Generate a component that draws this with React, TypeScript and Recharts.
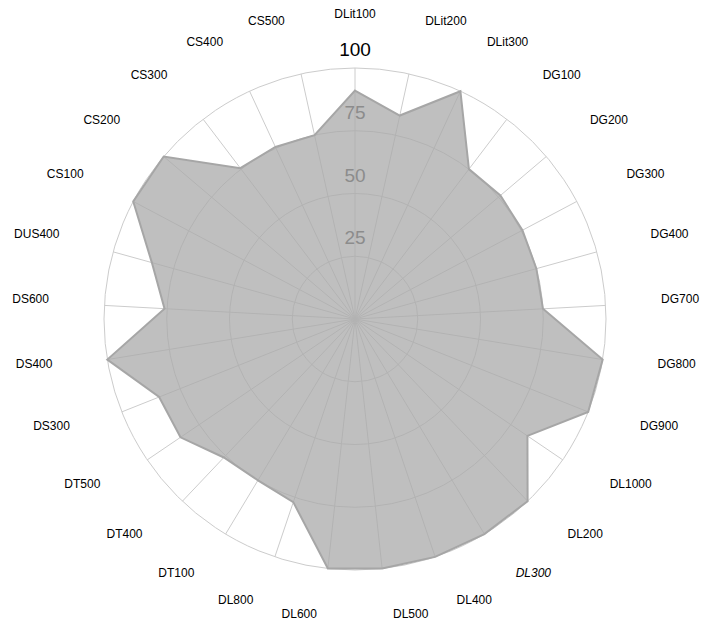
import React from 'react';
import { RadarChart, Radar, PolarGrid, PolarAngleAxis, PolarRadiusAxis } from 'recharts';

const categories = [
  'DLit100', 'DLit200', 'DLit300', 'DG100', 'DG200', 'DG300', 'DG400', 'DG700', 'DG800', 'DG900',
  'DL1000', 'DL200', 'DL300', 'DL400', 'DL500', 'DL600', 'DL800', 'DT100', 'DT400', 'DT500',
  'DS300', 'DS400', 'DS600', 'DUS400', 'CS100', 'CS200', 'CS300', 'CS400', 'CS500',
];
const values = [
  91, 83, 100, 75, 76, 75.5, 75, 75, 100, 100,
  83, 100, 100, 100, 100, 100, 77, 75, 76, 84,
  84, 100, 76, 84, 100, 100, 75.5, 75.5, 75,
];
const radiusTicks = [0, 25, 50, 75, 100];
const italicCategories = ['DL300'];

const data = categories.map((category, i) => ({ category, value: values[i] }));

const CX = 355;
const CY = 319;
const R = 251;
const LABEL_R = 301;
const FONT = '"Liberation Sans", Arial, Helvetica, sans-serif';

function AngleTick(props: any) {
  const { payload, index } = props;
  let angle = payload && typeof payload.coordinate === 'number' ? payload.coordinate : 90 - (index * 360) / categories.length;
  const rad = (angle * Math.PI) / 180;
  const cos = Math.cos(rad);
  const sin = Math.sin(rad);
  let x = CX + LABEL_R * cos;
  const y = CY - LABEL_R * sin;
  let anchor: 'start' | 'middle' | 'end' = 'middle';
  if (cos > 1e-5) {
    anchor = 'start';
    x += 5.5;
  } else if (cos < -1e-5) {
    anchor = 'end';
    x -= 5.5;
  }
  const label = payload ? payload.value : categories[index];
  return (
    <text
      x={x}
      y={y}
      textAnchor={anchor}
      fontSize={12}
      fontFamily={FONT}
      fill="#000"
      fontStyle={italicCategories.includes(label) ? 'italic' : 'normal'}
    >
      {label}
    </text>
  );
}

function RadiusTick(props: any) {
  const { payload } = props;
  const v = payload ? payload.value : 0;
  if (v === 0) return <g />;
  const x = typeof props.x === 'number' ? props.x : CX;
  const y = typeof props.y === 'number' ? props.y : CY - (R * v) / 100;
  return (
    <text
      x={x}
      y={y - 12}
      textAnchor="middle"
      fontSize={19}
      fontFamily={FONT}
      fill={v === 100 ? '#000' : '#8c8c8c'}
    >
      {v}
    </text>
  );
}

export default function App() {
  return (
    <div style={{ position: 'absolute', left: 0, top: 0, width: 702, height: 622, background: '#fff' }}>
      <RadarChart
        width={702}
        height={622}
        data={data}
        cx={CX}
        cy={CY}
        outerRadius={R}
        margin={{ top: 0, right: 0, bottom: 0, left: 0 }}
      >
        <PolarGrid gridType="circle" stroke="#cccccc" strokeWidth={1} />
        <PolarAngleAxis dataKey="category" tick={<AngleTick />} tickLine={false} axisLine={false} />
        <Radar
          dataKey="value"
          fill="#a9a9a9"
          fillOpacity={0.75}
          stroke="#a6a6a6"
          strokeWidth={2}
          isAnimationActive={false}
        />
        <PolarRadiusAxis
          angle={90}
          domain={[0, 100]}
          ticks={radiusTicks as any}
          tickCount={5}
          axisLine={false}
          tick={<RadiusTick />}
        />
      </RadarChart>
    </div>
  );
}
